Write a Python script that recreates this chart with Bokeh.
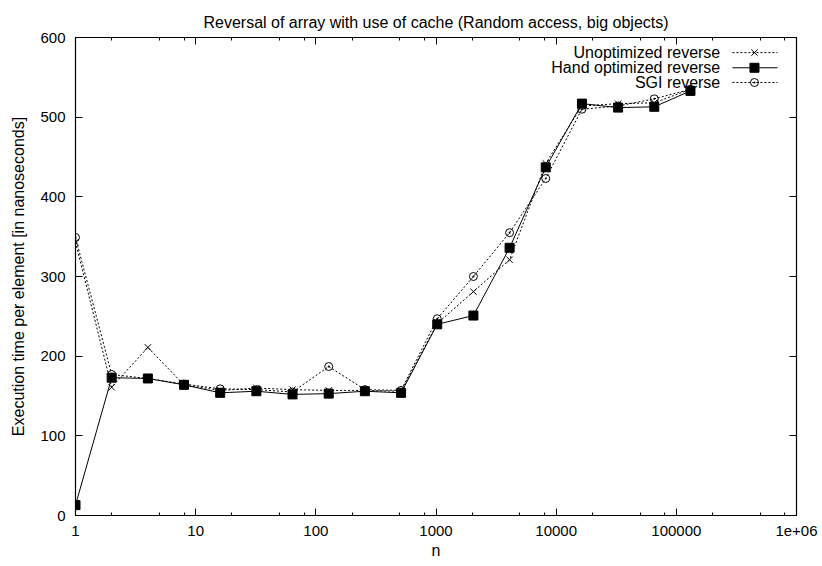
from bokeh.plotting import figure
from bokeh.models import Range1d, LinearAxis, LogAxis, FixedTicker
from bokeh.core.properties import value
from bokeh.embed import file_html
from bokeh.resources import INLINE

# Problem sizes (powers of two) and measured time per element in ns
n_values = [1, 2, 4, 8, 16, 32, 64, 128, 256, 512, 1024, 2048, 4096,
            8192, 16384, 32768, 65536, 131072]
unoptimized = [343, 161, 211, 164, 157, 160, 158, 157, 157, 156, 241,
               281, 321, 442, 514, 517, 518, 535]
hand_optimized = [13, 173, 172, 164, 154, 156, 152, 153, 156, 154, 240,
                  251, 336, 437, 517, 512, 513, 533]
sgi = [349, 177, 172, 165, 159, 158, 155, 187, 158, 157, 247,
       300, 355, 423, 510, 514, 523, 535]

series_names = ["Unoptimized reverse", "Hand optimized reverse", "SGI reverse"]

x_ticks = [1, 10, 100, 1000, 10000, 100000, 1000000]
x_tick_labels = ["1", "10", "100", "1000", "10000", "100000", "1e+06"]
x_minor = [m * d for d in [1, 10, 100, 1000, 10000, 100000] for m in (2, 5, 8)]
y_ticks = [0, 100, 200, 300, 400, 500, 600]

FONT = "Liberation Sans"
FS = "15px"
FS_BIG = "16px"

p = figure(width=822, height=566, x_axis_type="log",
           x_range=Range1d(1, 1e6), y_range=Range1d(0, 600),
           output_backend="svg", toolbar_location=None,
           min_border_left=75, min_border_right=26,
           min_border_top=37, min_border_bottom=51,
           title="Reversal of array with use of cache (Random access, big objects)")
p.background_fill_color = "white"
p.border_fill_color = "white"
p.outline_line_color = "black"
p.outline_line_width = 1.2
p.xgrid.visible = False
p.ygrid.visible = False

p.title.align = "center"
p.title.vertical_align = "top"
p.title.text_font = FONT
p.title.text_font_size = FS_BIG
p.title.text_font_style = "normal"
p.title.text_color = "black"
p.title.standoff = 10

xt = FixedTicker(ticks=x_ticks, minor_ticks=x_minor)
yt = FixedTicker(ticks=y_ticks, minor_ticks=[])


def style_axis(ax, show_labels):
    ax.axis_line_color = "black"
    ax.major_tick_line_color = "black"
    ax.minor_tick_line_color = "black"
    ax.major_tick_in = 7
    ax.major_tick_out = 0
    ax.minor_tick_in = 3
    ax.minor_tick_out = 0
    ax.major_label_text_font = FONT
    ax.major_label_text_font_size = FS if show_labels else "1px"
    ax.major_label_text_color = "black" if show_labels else None
    ax.major_label_standoff = 10 if show_labels else 0
    ax.axis_label_text_font = FONT
    ax.axis_label_text_font_size = FS_BIG
    ax.axis_label_text_font_style = "normal"
    ax.axis_label_text_color = "black"


xa = p.xaxis[0]
xa.ticker = xt
xa.major_label_overrides = {t: s for t, s in zip(x_ticks, x_tick_labels)}
xa.axis_label = "n"
style_axis(xa, True)
xa.axis_label_standoff = 3

ya = p.yaxis[0]
ya.ticker = yt
ya.axis_label = "Execution time per element [in nanoseconds]"
style_axis(ya, True)
ya.axis_label_standoff = 10

top = LogAxis(ticker=xt)
style_axis(top, False)
p.add_layout(top, "above")
right = LinearAxis(ticker=yt)
style_axis(right, False)
p.add_layout(right, "right")

DOT = "2 2"

# Unoptimized reverse: dotted line, x markers
p.line(n_values, unoptimized, line_color="black", line_width=1, line_dash=DOT)
p.scatter(n_values, unoptimized, marker="x", size=9, line_color="black", line_width=1)

# Hand optimized reverse: solid line, filled squares
p.line(n_values, hand_optimized, line_color="black", line_width=1)
p.scatter(n_values, hand_optimized, marker="square", size=9,
          fill_color="black", line_color="black")

# SGI reverse: dotted line, dotted circles
p.line(n_values, sgi, line_color="black", line_width=1, line_dash=DOT)
p.scatter(n_values, sgi, marker="circle_dot", size=8, line_color="black",
          fill_color=None, line_width=1)

# Key in the upper right corner: label, then line sample with marker
key_y = [581, 562, 543.5]
key_text_x = 232000
key_x0, key_x1, key_xm = 293000, 695000, 447000
p.text([key_text_x] * 3, key_y, text=series_names, text_align="right",
       text_baseline="middle", text_font=value(FONT), text_font_size=FS_BIG,
       text_color="black")
styles = [(DOT, "x", "black"), (None, "square", "black"), (DOT, "circle_dot", None)]
for yk, (dash, mk, fill) in zip(key_y, styles):
    if dash:
        p.line([key_x0, key_x1], [yk, yk], line_color="black", line_width=1, line_dash=dash)
    else:
        p.line([key_x0, key_x1], [yk, yk], line_color="black", line_width=1)
    p.scatter([key_xm], [yk], marker=mk, size=9 if mk != "circle_dot" else 8,
              line_color="black", fill_color=fill, line_width=1)

open("out.html", "w").write(file_html(p, INLINE))
